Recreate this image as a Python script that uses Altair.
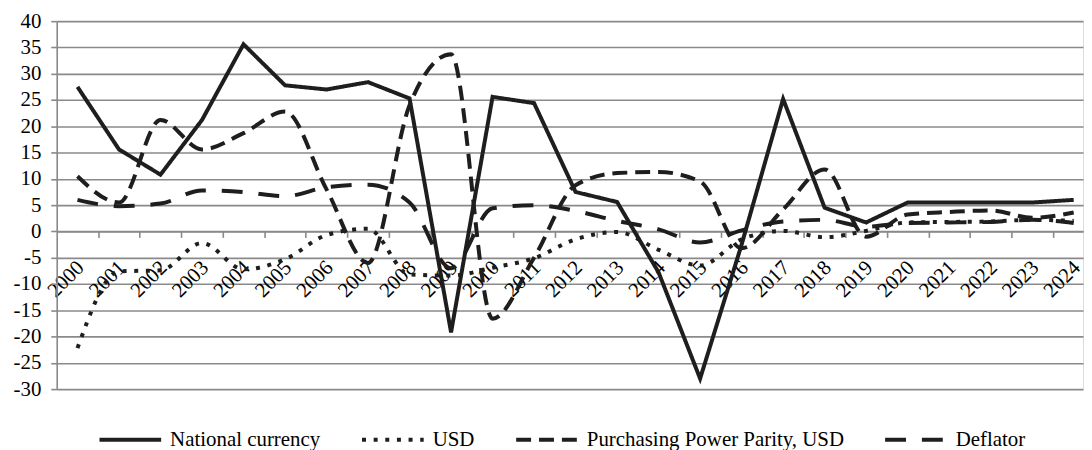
import altair as alt
import pandas as pd

# ---------------- data ----------------
years = list(range(2000, 2025))
series_names = ["National currency", "USD", "Purchasing Power Parity, USD", "Deflator"]
national_currency = [27.5, 15.6, 10.8, 21.2, 35.6, 27.8, 27.0, 28.4, 25.3, -19.2,
                     25.6, 24.4, 7.5, 5.6, -7.8, -28.0, -2.5, 25.2, 4.5, 1.7,
                     5.5, 5.5, 5.5, 5.5, 6.0]
usd = [-22.2, -7.6, -7.4, -2.2, -7.2, -5.3, -0.7, 0.5, -8.2, -8.4,
       -6.9, -5.1, -1.5, -0.1, -3.5, -6.5, -1.5, 0.1, -1.1, 0.1,
       1.7, 1.8, 1.9, 2.2, 2.0]
ppp_usd = [10.5, 5.5, 21.2, 15.6, 18.7, 22.8, 8.0, -6.0, 24.0, 33.7,
           -16.6, -5.0, 8.8, 11.1, 11.3, 9.5, -3.2, 4.2, 11.8, -1.0,
           3.2, 3.7, 4.0, 2.6, 3.6]
deflator = [6.0, 4.8, 5.3, 7.8, 7.5, 6.7, 8.4, 8.9, 5.5, -7.0,
            4.4, 5.0, 3.9, 2.0, 0.4, -2.1, 0.2, 1.9, 2.2, 0.9,
            1.6, 1.7, 1.8, 2.2, 1.6]
y_ticks = list(range(-30, 45, 5))
y_domain = [-30, 40]
boundary_ticks = [y + 0.5 for y in years[:-1]]

rows = []
for name, vals in zip(series_names, [national_currency, usd, ppp_usd, deflator]):
    for yr, v in zip(years, vals):
        rows.append({"year": yr, "value": v, "series": name})
df = pd.DataFrame(rows)

# ---------------- style ----------------
FONT = "'Liberation Serif', 'Times New Roman', Times, 'DejaVu Serif', serif"
INK = "#1e1e1e"
GRID = "#8a8a8a"
W, H = 1032, 370
PX_PER_YEAR = 41.74
x_domain = [years[0] - 0.5, years[0] - 0.5 + W / PX_PER_YEAR]
zero_offset = -(0 - y_domain[0]) / (y_domain[1] - y_domain[0]) * H

x_scale = alt.Scale(domain=x_domain, nice=False, zero=False)
y_scale = alt.Scale(domain=y_domain, nice=False, zero=False)
dash_scale = alt.Scale(domain=series_names,
                       range=[[1, 0], [4, 7.7], [15, 8], [21, 16]])

y_axis = alt.Axis(values=y_ticks, labelExpr="'' + datum.value", title=None,
                  grid=True, gridColor=GRID, gridWidth=1.6,
                  domain=True, domainColor=GRID, domainWidth=1.6,
                  ticks=True, tickColor=GRID, tickWidth=1.6, tickSize=6,
                  labelPadding=10, labelFont=FONT, labelFontSize=21,
                  labelColor="black", zindex=0)

x_tick_axis = alt.Axis(values=boundary_ticks, labels=False, title=None,
                       ticks=True, tickSize=6, tickColor=GRID, tickWidth=1.6,
                       domain=True, domainColor=GRID, domainWidth=1.6,
                       grid=False, offset=zero_offset, orient="bottom", zindex=0)

x_label_axis = alt.Axis(values=years, format="d", title=None,
                        ticks=False, tickSize=0, domain=False, grid=False,
                        labelAngle=315, labelAlign="right", labelBaseline="middle",
                        labelPadding=33, labelOffset=3, labelFont=FONT,
                        labelFontSize=21, labelColor="black",
                        labelOverlap=False, labelFlush=False,
                        offset=zero_offset, orient="bottom", zindex=0)

legend = alt.Legend(orient="none", legendX=41, legendY=388, direction="horizontal",
                    title=None, symbolType="stroke", symbolSize=62 * 62,
                    symbolStrokeWidth=4, symbolStrokeColor=INK,
                    labelFont=FONT, labelFontSize=21, labelColor="black",
                    labelOffset=7, columnPadding=33, padding=0, labelLimit=400)

solid = alt.Chart(df).transform_filter(
    alt.datum.series == series_names[0]
).mark_line(color=INK, strokeWidth=4, interpolate="linear").encode(
    x=alt.X("year:Q", scale=x_scale, axis=x_tick_axis),
    y=alt.Y("value:Q", scale=y_scale, axis=y_axis),
    strokeDash=alt.StrokeDash("series:N", scale=dash_scale, legend=legend),
)

smooth = alt.Chart(df).transform_filter(
    alt.datum.series != series_names[0]
).mark_line(color=INK, strokeWidth=4, interpolate="monotone").encode(
    x=alt.X("year:Q", scale=x_scale, axis=x_label_axis),
    y=alt.Y("value:Q", scale=y_scale, axis=y_axis),
    strokeDash=alt.StrokeDash("series:N", scale=dash_scale, legend=legend),
)

chart = alt.layer(solid, smooth).resolve_axis(x="independent").properties(
    width=W, height=H,
    padding={"left": 5, "top": 1, "right": 0, "bottom": 0},
    background="white",
).configure_view(stroke=None).configure(font=FONT)

chart.save("out.html", embed_options={"renderer": "svg", "actions": False})
